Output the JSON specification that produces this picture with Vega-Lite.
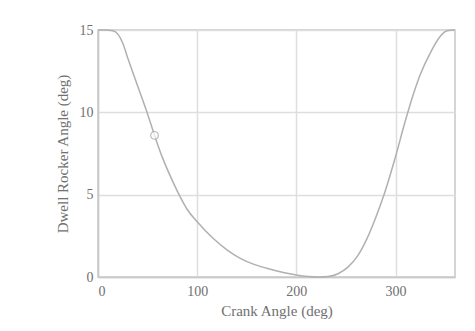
{
  "$schema": "https://vega.github.io/schema/vega-lite/v6.json",
  "width": 357,
  "height": 247,
  "autosize": {"type": "none"},
  "padding": {"left": 98, "top": 30, "right": 20, "bottom": 54},
  "background": "white",
  "config": {
    "view": {"stroke": "#c8c8c8", "strokeWidth": 1.5},
    "axis": {
      "labelFont": "Liberation Serif",
      "titleFont": "Liberation Serif",
      "labelColor": "#707070",
      "titleColor": "#707070",
      "labelFontSize": 14,
      "titleFontSize": 15,
      "titleFontWeight": "normal",
      "gridColor": "#dedede",
      "gridWidth": 1.5,
      "domainColor": "#c8c8c8",
      "domainWidth": 1.5,
      "ticks": false
    }
  },
  "datasets": {
    "curve": [
      {"crank": 0, "rocker": 15},
      {"crank": 8, "rocker": 15},
      {"crank": 15, "rocker": 14.95},
      {"crank": 20, "rocker": 14.75},
      {"crank": 25, "rocker": 14.2},
      {"crank": 30, "rocker": 13.3},
      {"crank": 40, "rocker": 11.6},
      {"crank": 50, "rocker": 9.9},
      {"crank": 57, "rocker": 8.6},
      {"crank": 65, "rocker": 7.25},
      {"crank": 75, "rocker": 5.85},
      {"crank": 83, "rocker": 4.85},
      {"crank": 90, "rocker": 4.1},
      {"crank": 100, "rocker": 3.35},
      {"crank": 116, "rocker": 2.35},
      {"crank": 130, "rocker": 1.65},
      {"crank": 143, "rocker": 1.15},
      {"crank": 158, "rocker": 0.75},
      {"crank": 173, "rocker": 0.48},
      {"crank": 188, "rocker": 0.26},
      {"crank": 200, "rocker": 0.12},
      {"crank": 212, "rocker": 0.03},
      {"crank": 222, "rocker": 0.0},
      {"crank": 232, "rocker": 0.03},
      {"crank": 242, "rocker": 0.2},
      {"crank": 252, "rocker": 0.6},
      {"crank": 262, "rocker": 1.3},
      {"crank": 271, "rocker": 2.3},
      {"crank": 280, "rocker": 3.6},
      {"crank": 289, "rocker": 5.1},
      {"crank": 300, "rocker": 7.3},
      {"crank": 310, "rocker": 9.5},
      {"crank": 318, "rocker": 11.1},
      {"crank": 325, "rocker": 12.3},
      {"crank": 335, "rocker": 13.6},
      {"crank": 345, "rocker": 14.6},
      {"crank": 352, "rocker": 14.95},
      {"crank": 360, "rocker": 15}
    ],
    "marker": [
      {"crank": 57, "rocker": 8.6}
    ]
  },
  "layer": [
    {
      "data": {"name": "curve"},
      "mark": {"type": "line", "interpolate": "monotone", "color": "#b0b0b0", "strokeWidth": 1.5},
      "encoding": {
        "x": {
          "field": "crank", "type": "quantitative",
          "scale": {"domain": [0, 360], "nice": false},
          "axis": {"values": [0, 100, 200, 300], "title": "Crank Angle (deg)", "labelPadding": 7, "titlePadding": 5}
        },
        "y": {
          "field": "rocker", "type": "quantitative",
          "scale": {"domain": [0, 15], "nice": false},
          "axis": {"values": [0, 5, 10, 15], "title": "Dwell Rocker Angle (deg)", "labelPadding": 5, "titlePadding": 9}
        }
      }
    },
    {
      "data": {"name": "marker"},
      "mark": {"type": "point", "shape": "circle", "filled": true, "fill": "white", "stroke": "#a0a0a0", "strokeWidth": 1.2, "size": 60},
      "encoding": {
        "x": {"field": "crank", "type": "quantitative"},
        "y": {"field": "rocker", "type": "quantitative"}
      }
    }
  ]
}
